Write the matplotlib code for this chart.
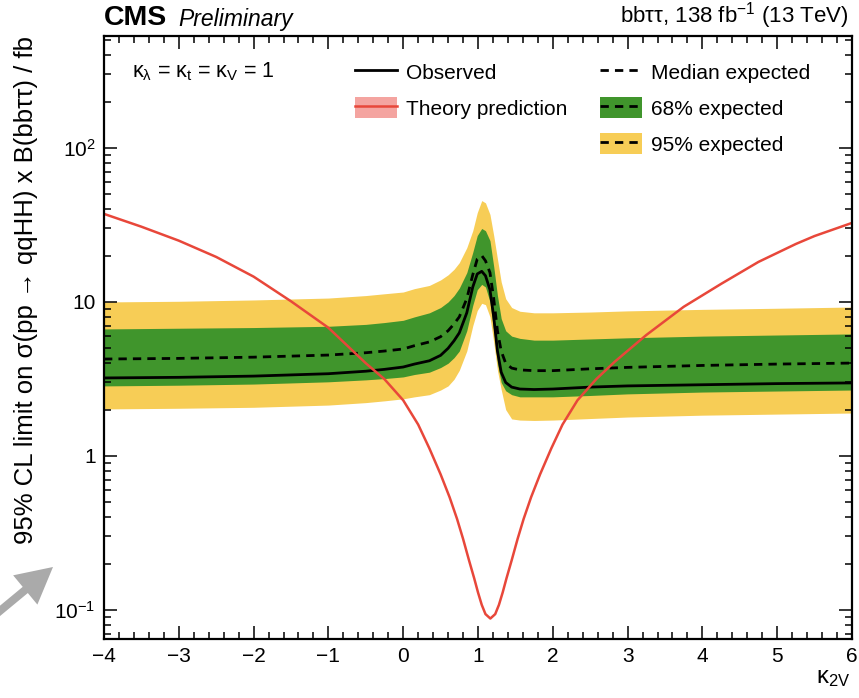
import numpy as np
import matplotlib
matplotlib.use("Agg")
import matplotlib.pyplot as plt
from matplotlib.lines import Line2D
from matplotlib.patches import Patch, FancyArrow
from matplotlib.ticker import FixedLocator, FixedFormatter, LogLocator, NullFormatter, MultipleLocator

plt.rcParams['font.family'] = ['Liberation Sans', 'DejaVu Sans']
plt.rcParams['mathtext.fontset'] = 'custom'
plt.rcParams['mathtext.rm'] = 'Liberation Sans'
plt.rcParams['mathtext.it'] = 'Liberation Sans:italic'
plt.rcParams['mathtext.default'] = 'regular'

# expected / observed limits vs kappa_2V
kappa_2v = [-4, -3, -2, -1, -0.5, -0.25, 0, 0.15, 0.35, 0.5, 0.6, 0.68, 0.75, 0.85, 0.93, 0.99, 1.05, 1.1,
            1.16, 1.21, 1.26, 1.31, 1.37, 1.45, 1.56, 1.75, 2.0, 2.5, 3, 4, 5, 6]
exp_95_hi = [10.0, 10.1, 10.3, 10.6, 11.0, 11.3, 11.6, 12.2, 12.8, 13.9, 15.0, 16.3, 18.0, 22.5, 29.0, 38.0, 45.5, 44.0,
             37.0, 27.0, 19.0, 13.5, 10.5, 9.2, 8.7, 8.5, 8.5, 8.6, 8.75, 8.95, 9.1, 9.27]
exp_68_hi = [6.68, 6.75, 6.82, 6.95, 7.15, 7.35, 7.6, 8.0, 8.5, 9.2, 10.0, 11.0, 12.3, 15.5, 21.0, 27.0, 30.0, 29.0,
             25.0, 17.0, 11.0, 7.8, 6.5, 6.0, 5.8, 5.65, 5.65, 5.75, 5.85, 6.0, 6.1, 6.2]
exp_median = [4.26, 4.3, 4.38, 4.52, 4.68, 4.8, 4.95, 5.2, 5.5, 5.95, 6.5, 7.2, 8.0, 10.5, 15.0, 19.0, 20.0, 18.5,
              15.5, 10.5, 6.5, 4.8, 4.0, 3.72, 3.62, 3.58, 3.58, 3.68, 3.76, 3.87, 3.95, 4.01]
observed = [3.21, 3.24, 3.3, 3.42, 3.55, 3.65, 3.78, 3.95, 4.15, 4.5, 5.0, 5.6, 6.3, 8.5, 12.5, 15.2, 15.8, 14.8,
            12.0, 8.0, 4.8, 3.5, 3.0, 2.8, 2.72, 2.7, 2.72, 2.8, 2.85, 2.9, 2.95, 2.98]
exp_68_lo = [2.85, 2.88, 2.93, 3.03, 3.12, 3.18, 3.26, 3.38, 3.5, 3.75, 4.0, 4.35, 4.8, 6.5, 9.5, 12.0, 13.0, 12.5,
             10.0, 6.5, 4.0, 3.0, 2.65, 2.5, 2.42, 2.42, 2.42, 2.47, 2.53, 2.6, 2.64, 2.68]
exp_95_lo = [2.02, 2.04, 2.07, 2.14, 2.22, 2.28, 2.35, 2.42, 2.5, 2.68, 2.85, 3.15, 3.6, 4.8, 7.0, 8.8, 9.8, 9.6,
             8.0, 5.5, 3.6, 2.7, 2.0, 1.74, 1.71, 1.7, 1.71, 1.75, 1.79, 1.84, 1.87, 1.9]

# theory prediction
theory_k2v = [-4, -3.5, -3, -2.5, -2, -1.5, -1, -0.5, -0.25, 0, 0.2, 0.35, 0.5, 0.62, 0.72, 0.8, 0.88,
              0.95, 1.0, 1.05, 1.1, 1.165, 1.23, 1.28, 1.33, 1.38, 1.45, 1.53, 1.61, 1.71, 1.83, 1.98,
              2.13, 2.33, 2.58, 2.83, 3.25, 3.75, 4.25, 4.75, 5.25, 5.5, 6]
theory_xs = [37.3, 30.8, 25.0, 19.6, 14.6, 10.1, 6.8, 4.0, 3.15, 2.3, 1.6, 1.12, 0.76, 0.54, 0.39, 0.29, 0.21,
             0.16, 0.13, 0.108, 0.094, 0.088, 0.094, 0.108, 0.13, 0.16, 0.21, 0.29, 0.39, 0.54, 0.76, 1.12,
             1.6, 2.3, 3.15, 4.1, 6.1, 9.3, 13.1, 18.2, 23.8, 26.8, 32.6]

yellow = '#f7cd56'
green = '#40952c'
red = '#e8473a'

fig = plt.figure(figsize=(8.59, 6.98), dpi=100)
ax = fig.add_axes([104 / 859, 59 / 698, 748 / 859, 603 / 698])

ax.fill_between(kappa_2v, exp_95_lo, exp_95_hi, color=yellow, lw=0)
ax.fill_between(kappa_2v, exp_68_lo, exp_68_hi, color=green, lw=0)
ax.plot(kappa_2v, exp_median, color='black', ls=(0, (3, 2.2)), lw=2)
ax.plot(kappa_2v, observed, color='black', lw=2)
ax.plot(theory_k2v, theory_xs, color=red, lw=1.8)

ax.set_yscale('log')
ax.set_xlim(-4, 6)
ax.set_ylim(0.0648, 533)

ax.xaxis.set_minor_locator(MultipleLocator(0.2))
ax.yaxis.set_major_locator(FixedLocator([0.1, 1, 10, 100]))
ax.yaxis.set_major_formatter(FixedFormatter(['10$^{-1}$', '1', '10', '10$^{2}$']))
ax.yaxis.set_minor_locator(LogLocator(base=10, subs=np.arange(2, 10)))
ax.yaxis.set_minor_formatter(NullFormatter())
ax.set_xticks(range(-4, 7))
ax.set_xticklabels(['\u22124', '\u22123', '\u22122', '\u22121', '0', '1', '2', '3', '4', '5', '6'])

ax.tick_params(which='both', direction='in', top=True, right=True, width=1.1, labelsize=15)
ax.tick_params(which='major', length=9.5, pad=6)
ax.tick_params(which='minor', length=5)
for sp in ax.spines.values():
    sp.set_linewidth(1.6)

ax.set_xlabel('\u03ba$_{2V}$', fontsize=17, loc='right')
ax.xaxis.set_label_coords(0.997, -0.046)
ax.set_ylabel('95% CL limit on \u03c3(pp \u2192 qqHH) x B(bb\u03c4\u03c4) / fb', fontsize=18.5, loc='top')
ax.yaxis.set_label_coords(-0.088, 1.0)

ax.text(0.0, 1.008, 'CMS', transform=ax.transAxes, fontsize=20.5, fontweight='bold', va='bottom', ha='left')
ax.text(0.099, 1.008, 'Preliminary', transform=ax.transAxes, fontsize=16.5, style='italic', va='bottom', ha='left')
ax.text(0.995, 1.008, 'bb\u03c4\u03c4, 138 fb$^{-1}$ (13 TeV)', transform=ax.transAxes, fontsize=16,
        va='bottom', ha='right')
ax.text(0.038, 0.940, '\u03ba$_{\u03bb}$ = \u03ba$_{t}$ = \u03ba$_{V}$ = 1', transform=ax.transAxes,
        fontsize=15.5, va='center', ha='left')

h_obs = Line2D([], [], color='black', lw=2)
h_th = (Patch(facecolor='#f4a4a0', edgecolor='none'), Line2D([], [], color=red, lw=1.8))
h_med = Line2D([], [], color='black', ls=(0, (3, 2.2)), lw=2)
h_68 = (Patch(facecolor=green, edgecolor='none'), Line2D([], [], color='black', ls=(0, (3, 2.2)), lw=2))
h_95 = (Patch(facecolor=yellow, edgecolor='none'), Line2D([], [], color='black', ls=(0, (3, 2.2)), lw=2))

leg_kw = dict(frameon=False, fontsize=15, handlelength=2.0, handleheight=1.15, handletextpad=0.45,
              labelspacing=0.7, borderpad=0, borderaxespad=0, loc='upper left')
leg1 = ax.legend([h_obs, h_th], ['Observed', 'Theory prediction'], bbox_to_anchor=(0.3356, 0.958), **leg_kw)
ax.add_artist(leg1)
ax.legend([h_med, h_68, h_95], ['Median expected', '68% expected', '95% expected'],
          bbox_to_anchor=(0.663, 0.958), **leg_kw)

# grey pointer arrow at lower left
fig.add_artist(FancyArrow(-0.05, 0.83, 0.58, 0.48, width=0.08, head_width=0.38, head_length=0.36,
                          length_includes_head=True, color='#aaaaaa', lw=0,
                          transform=fig.dpi_scale_trans))

fig.savefig('out.png', dpi=100)
